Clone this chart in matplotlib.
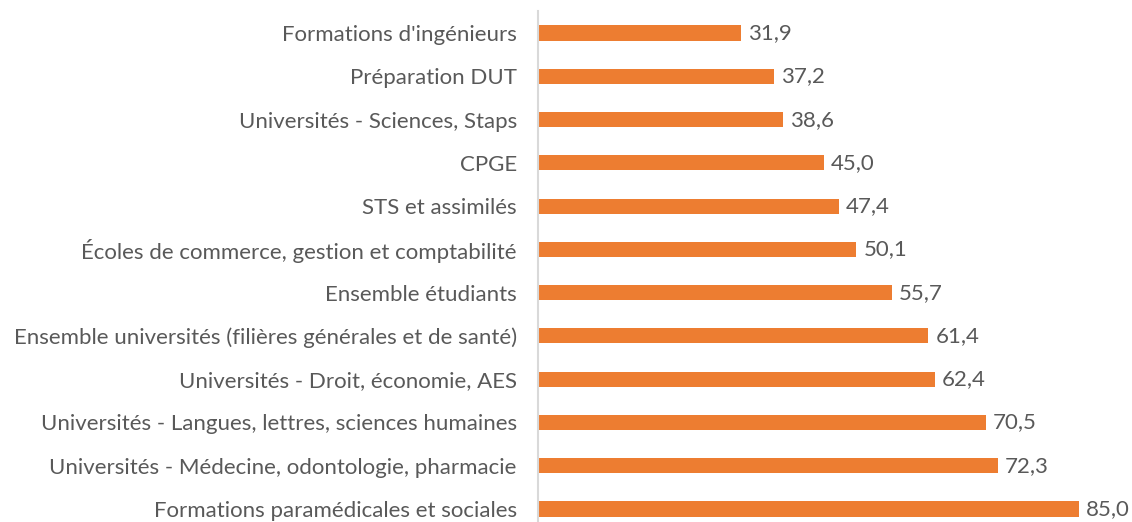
import matplotlib
matplotlib.use("Agg")
import matplotlib.pyplot as plt

categories = [
    "Formations d'ingénieurs",
    "Préparation DUT",
    "Universités - Sciences, Staps",
    "CPGE",
    "STS et assimilés",
    "Écoles de commerce, gestion et comptabilité",
    "Ensemble étudiants",
    "Ensemble universités (filières générales et de santé)",
    "Universités - Droit, économie, AES",
    "Universités - Langues, lettres, sciences humaines",
    "Universités - Médecine, odontologie, pharmacie",
    "Formations paramédicales et sociales",
]
values = [31.9, 37.2, 38.6, 45.0, 47.4, 50.1, 55.7, 61.4, 62.4, 70.5, 72.3, 85.0]

bar_color = "#ED7D31"
text_color = "#595959"

plt.rcParams['font.family'] = ['Lato', 'DejaVu Sans']

fig = plt.figure(figsize=(11.32, 5.22), dpi=100)
ax = fig.add_axes([537.7 / 1132, -0.0165, 1 - 537.7 / 1132, 0.9946])

pos = list(range(len(categories)))
ax.barh(pos, values, height=0.35, color=bar_color)
ax.set_yticks(pos)
ax.set_yticklabels(categories, fontsize=16, color=text_color)
ax.set_ylim(len(categories) - 0.5, -0.5)
ax.set_xlim(0, 93.4)

for p, v in zip(pos, values):
    ax.annotate(f"{v:.1f}".replace(".", ","), (v, p), xytext=(5, 0),
                textcoords="offset points", va="center", ha="left",
                fontsize=16, color=text_color)

for side in ["top", "right", "bottom"]:
    ax.spines[side].set_visible(False)
ax.spines["left"].set_color("#D9D9D9")
ax.spines["left"].set_linewidth(1.5)
ax.tick_params(axis="y", length=0, pad=15)
ax.set_xticks([])

fig.savefig("out.png", dpi=100)
